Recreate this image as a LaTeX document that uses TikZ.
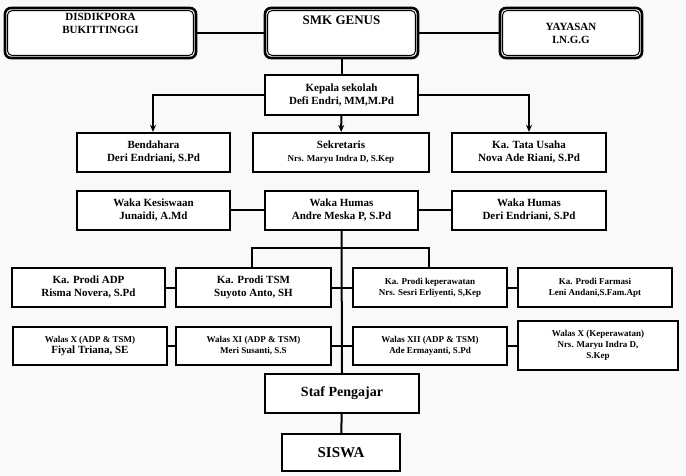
\documentclass[tikz,border=0pt]{standalone}
\usepackage{fontspec}
\setmainfont{Liberation Serif}
\usetikzlibrary{arrows.meta,calc}
\begin{document}
\begin{tikzpicture}[x=1pt,y=-1pt,
 box/.style={draw,line width=2.2pt,fill=white,align=center,inner sep=1pt,font=\bfseries\fontsize{11}{13}\selectfont},
 top/.style={box,rounded corners=6pt,line width=2.6pt},
 ln/.style={line width=2pt},
 arr/.style={line width=2pt,-{Stealth[length=7pt,width=6pt]}},
 sm/.style={font=\bfseries\fontsize{9}{11}\selectfont}]
\fill[gray!5] (0,0) rectangle (686,476);
\useasboundingbox (0,0) rectangle (686,476);
\newcommand\bx[6]{\node[#1,minimum width=#4-#2,minimum height=#5-#3] (#6) at ({(#2+#4)/2},{(#3+#5)/2})}
\bx{top}{5}{8}{196}{58}{dis}{DISDIKPORA\\BUKITTINGGI\\[6pt]};
\bx{top}{265}{8}{418}{58}{smk}{\fontsize{13}{15}\selectfont SMK GENUS\\[12pt]};
\bx{top}{500}{8}{642}{58}{yay}{YAYASAN\\I.N.G.G};
\foreach \n in {dis,smk,yay}{\draw[line width=1pt,rounded corners=4pt] ($(\n.north west)+(4,4)$) rectangle ($(\n.south east)+(-4,-4)$);}
\bx{box}{265}{75}{418}{115}{kep}{Kepala sekolah\\Defi Endri, MM,M.Pd};
\bx{box}{77}{133}{230}{172}{ben}{Bendahara\\Deri Endriani, S.Pd};
\bx{box}{253}{133}{429}{172}{sek}{Sekretaris\\{\fontsize{9}{11}\selectfont Nrs. Maryu Indra D, S.Kep}};
\bx{box}{452}{133}{606}{172}{tu}{Ka. Tata Usaha\\Nova Ade Riani, S.Pd};
\bx{box}{77}{191}{230}{230}{wk}{Waka Kesiswaan\\Junaidi, A.Md};
\bx{box}{265}{191}{418}{230}{wh}{Waka Humas\\Andre Meska P, S.Pd};
\bx{box}{452}{191}{606}{230}{wh2}{Waka Humas\\Deri Endriani, S.Pd};
\bx{box}{12}{268}{165}{307}{adp}{Ka. Prodi ADP\\Risma Novera, S.Pd};
\bx{box}{176}{268}{331}{307}{tsm}{Ka. Prodi TSM\\Suyoto Anto, SH};
\bx{box,sm}{353}{268}{507}{307}{kp}{Ka. Prodi keperawatan\\Nrs. Sesri Erliyenti, S,Kep};
\bx{box,sm}{518}{268}{672}{307}{far}{Ka. Prodi Farmasi\\Leni Andani,S.Fam.Apt};
\bx{box,sm}{13}{327}{167}{365}{w1}{Walas X (ADP \& TSM)\\{\fontsize{11}{13}\selectfont Fiyal Triana, SE}};
\bx{box,sm}{176}{327}{331}{365}{w2}{Walas XI (ADP \& TSM)\\Meri Susanti, S.S};
\bx{box,sm}{353}{327}{507}{365}{w3}{Walas XII (ADP \& TSM)\\Ade Ermayanti, S.Pd};
\bx{box,sm}{518}{321}{678}{370}{w4}{Walas X (Keperawatan)\\Nrs. Maryu Indra D,\\S.Kep};
\bx{box}{265}{374}{419}{413}{staf}{\fontsize{14}{16}\selectfont Staf Pengajar};
\bx{box}{282}{434}{400}{471}{sis}{\fontsize{15}{17}\selectfont SISWA};
\draw[ln] (dis) -- (smk); \draw[ln] (smk) -- (yay);
\draw[ln] (smk) -- (kep);
\draw[arr] (kep.west) -| (ben.north -| 153,0);
\draw[arr] (kep.east) -| (tu.north -| 529,0);
\draw[arr] (kep) -- (sek);
\draw[ln] (wk) -- (wh); \draw[ln] (wh) -- (wh2);
\draw[ln] (wh.south) -- (staf.north);
\draw[ln] (tsm.north -| 252,0) -- (252,248) -- (429,248) -- (kp.north -| 429,0);
\draw[ln] (adp) -- (tsm); \draw[ln] (tsm) -- (kp); \draw[ln] (kp) -- (far);
\draw[ln] (w1) -- (w2); \draw[ln] (w2) -- (w3); \draw[ln] (w3.east) -- (w4.west |- w3.east);
\draw[ln] (staf) -- (sis);
\end{tikzpicture}
\end{document}
